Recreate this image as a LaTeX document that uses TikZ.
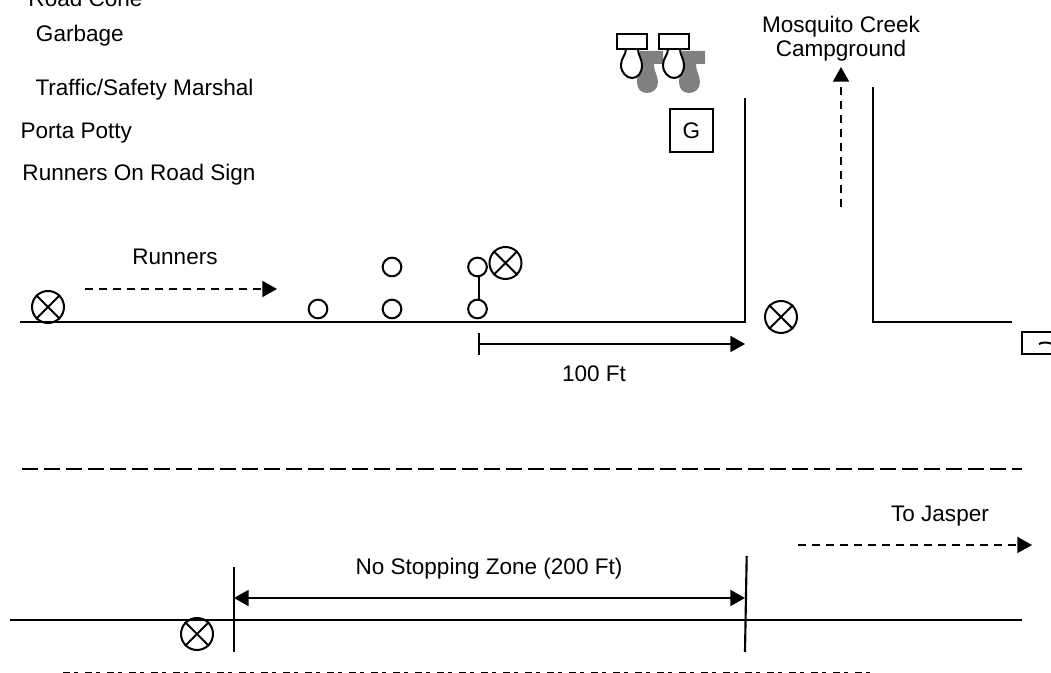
\documentclass[tikz,border=0pt]{standalone}
\usepackage{fontspec}
\setmainfont{Liberation Sans}
\usetikzlibrary{arrows.meta}
\definecolor{potgrey}{gray}{0.5}
\tikzset{
  x=0.75pt,y=-0.75pt,
  lbl/.style={inner sep=0pt,font=\fontsize{16.9pt}{18pt}\selectfont},
  cone/.style={circle,draw,minimum size=14pt,inner sep=0pt,line width=1.5pt},
  road/.style={line width=1.6pt},
  dim/.style={line width=1.5pt,-{Triangle[length=11pt,width=12pt]}},
  dimboth/.style={line width=1.5pt,{Triangle[length=11pt,width=12pt]}-{Triangle[length=11pt,width=12pt]}},
  dashedarrow/.style={line width=1.5pt,dash pattern=on 6pt off 4.5pt,-{Triangle[length=11pt,width=12pt]}},
}
\newcommand{\marshal}[3]{%
  \node[circle,draw,minimum size=24pt,inner sep=0pt,line width=1.5pt] (#1) at (#2,#3) {};
  \draw (#1.north west) -- (#1.south east) (#1.north east) -- (#1.south west);
}
\newcommand{\potty}[2]{%
  \fill[potgrey] (#1+23,51) -- (#1+46,51) -- (#1+46,64) -- (#1+37,64)
    .. controls (#1+37,72) and (#1+41,76) .. (#1+41,82)
    .. controls (#1+41,89) and (#1+36,93) .. (#1+30,93)
    .. controls (#1+24,93) and (#1+20,89) .. (#1+20,82)
    .. controls (#1+20,76) and (#1+23,72) .. (#1+23,64) -- cycle;
  \draw[fill=white] (#1+9,49) .. controls (#1+9,55) and (#1+4,58) .. (#1+4,65)
    .. controls (#1+4,73) and (#1+10,78) .. (#1+15,78)
    .. controls (#1+21,78) and (#1+25,73) .. (#1+25,65)
    .. controls (#1+25,59) and (#1+21,55) .. (#1+21,49);
  \node[draw,fill=white,inner sep=0pt,minimum width=22.5pt,minimum height=11.25pt,line width=1.5pt] (#2) at (#1+15,41.5) {};
}
\begin{document}
\begin{tikzpicture}[line width=1.5pt]
\useasboundingbox (0,0) rectangle (1051,673);
\begin{scope}
\clip (0,0) rectangle (1051,673);
\node[lbl,anchor=base west] (t1) at (27.5,7) {Road Cone};
\node[lbl,anchor=base west] (t2) at (35,41.5) {Garbage};
\node[lbl,anchor=base west] (t3) at (34.5,95.5) {Traffic/Safety Marshal};
\node[lbl,anchor=base west] (t4) at (19.5,138.5) {Porta Potty};
\node[lbl,anchor=base west] (t5) at (21.5,180.5) {Runners On Road Sign};
\node[lbl,anchor=base] (t6) at (175,265) {Runners};
\node[lbl,anchor=base] (t7) at (594,381.5) {100 Ft};
\node[lbl,anchor=base] (t8) at (489,575) {No Stopping Zone (200 Ft)};
\node[lbl,anchor=base] (t9) at (940,521.5) {To Jasper};
\node[lbl,align=center,anchor=north] (t10) at (841,15.5) {Mosquito Creek\\Campground};

% roads
\draw[road] (20,322) -- (745,322) -- (745,98);
\draw[road] (873,87) -- (873,322) -- (1012,322);
\draw[line width=1.6pt,dash pattern=on 12pt off 4.5pt] (22,469) -- (1022,469);
\draw[road] (10,620) -- (1022,620);
\draw[road] (234,567) -- (234,652);
\draw[road] (746.7,556) -- (745,652);

% arrows
\coordinate (a1) at (85,289); \coordinate (a2) at (277,289);
\draw[dashedarrow] (a1) -- (a2);
\coordinate (b1) at (841,207); \coordinate (b2) at (841,67);
\draw[dashedarrow] (b1) -- (b2);
\coordinate (c1) at (798,545); \coordinate (c2) at (1032,545);
\draw[dashedarrow] (c1) -- (c2);
\coordinate (d1) at (479,344); \coordinate (d2) at (745,344);
\draw[road] (479,333) -- (479,355);
\draw[dim] (d1) -- (d2);
\coordinate (e1) at (234,598); \coordinate (e2) at (745,598);
\draw[dimboth] (e1) -- (e2);

% cones
\node[cone] (c01) at (318,309) {};
\node[cone] (c02) at (392,267) {};
\node[cone] (c03) at (392,309) {};
\node[cone] (c04) at (477.5,267) {};
\node[cone] (c05) at (477.5,309) {};
\draw ([xshift=1.1pt]c04.south) -- ([xshift=1.1pt]c05.north);

% marshals
\marshal{m1}{48}{307}
\marshal{m2}{505.5}{263}
\marshal{m3}{781}{317}
\marshal{m4}{197}{634}

% porta potties
\potty{617}{p1}
\potty{659}{p2}

% garbage
\node[draw,inner sep=0pt,minimum size=32pt,line width=1.5pt,font=\fontsize{16.9pt}{18pt}\selectfont] (g) at (691.5,130.5) {G};

% sign clipped at right edge
\draw (1060,332) -- (1021.5,332) -- (1021.5,354) -- (1060,354);
\draw (1039,344) .. controls (1042,342) and (1048,342) .. (1052,344);

% lower dashed line
\draw[line width=1.2pt,dash pattern=on 5pt off 3.5pt on 3pt off 5pt] (63,672.8) -- (872,672.8);
\end{scope}
\end{tikzpicture}
\end{document}
